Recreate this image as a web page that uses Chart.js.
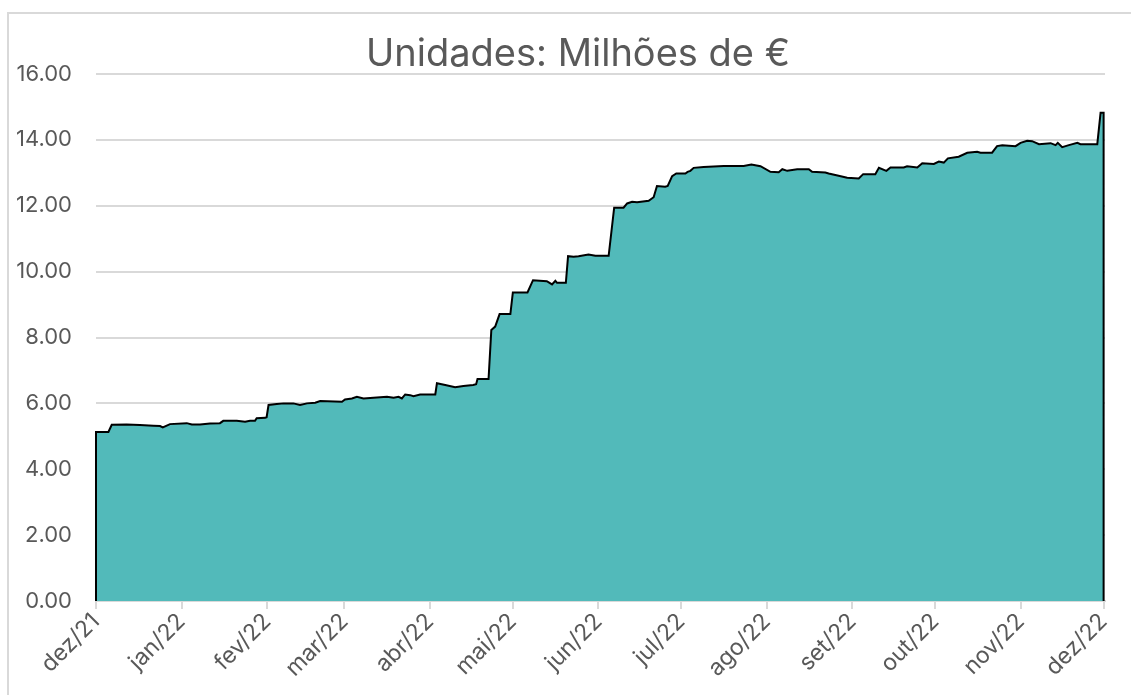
<!DOCTYPE html>
<html lang="pt">
<head>
<meta charset="utf-8">
<title>Unidades: Milhões de €</title>
<script src="https://cdn.jsdelivr.net/npm/chart.js@4.4.1/dist/chart.umd.min.js"></script>
<style>
  html, body { margin: 0; padding: 0; background: #fff; overflow: hidden; }
  .frame { position: absolute; left: 7px; top: 12px; right: 0; bottom: 0; border-left: 2px solid #d9d9d9; border-top: 2px solid #d9d9d9; }
  .wrap { position: absolute; left: 0; top: 0; width: 1156px; height: 695px; }
</style>
</head>
<body>
<div class="frame"></div>
<div class="wrap"><canvas id="chart"></canvas></div>
<script>
// days since 01/12/2021 and value (millions of €)
const days = [
  0, 0, 4.5, 5.7, 11.1, 15.9, 20.8, 23.2, 24.2, 26.8, 32.9, 34.7, 37.7, 41.3, 44.9,
  46.1, 51.0, 54.0, 55.8, 57.6, 58.2, 61.3, 61.8, 62.5, 65.5, 67.9, 71.5, 73.9, 76.4,
  79.4, 81.2, 89.1, 90.2, 92.7, 94.5, 96.9, 100.5, 105.4, 107.8, 109.6, 110.8, 112.0,
  113.8, 115.0, 117.4, 122.9, 123.5, 126.5, 130.1, 133.1, 136.6, 137.7, 138.2, 142.2,
  143.2, 144.6, 146.2, 150.1, 151.0, 156.3, 158.3, 163.3, 165.2, 166.4, 167.0, 170.2,
  171.0, 173.0, 174.8, 178.4, 180.9, 185.7, 187.7, 191.1, 192.4, 194.2, 196.0, 200.2,
  202.0, 203.2, 206.2, 207.1, 208.7, 210.2, 213.5, 214.3, 215.3, 216.5, 220.1, 227.4,
  234.6, 237.4, 240.7, 244.3, 247.3, 248.6, 250.4, 254.0, 258.2, 259.4, 264.2, 265.4,
  269.0, 272.1, 276.3, 277.9, 282.3, 283.6, 286.3, 287.8, 292.6, 293.8, 297.5, 299.3,
  303.5, 305.3, 307.1, 308.6, 312.5, 315.6, 319.2, 320.4, 324.6, 326.4, 328.3, 333.1,
  334.9, 337.3, 339.1, 341.6, 345.8, 347.6, 348.4, 350.0, 352.4, 355.5, 356.6, 362.7,
  363.9, 365, 365
];
const values = [
  0, 5.13, 5.13, 5.35, 5.36, 5.34, 5.32, 5.31, 5.27, 5.37, 5.40, 5.36, 5.36, 5.39, 5.40,
  5.47, 5.47, 5.44, 5.47, 5.47, 5.55, 5.56, 5.58, 5.95, 5.98, 6.00, 6.00, 5.95, 6.00,
  6.02, 6.07, 6.05, 6.12, 6.15, 6.20, 6.15, 6.17, 6.20, 6.17, 6.20, 6.15, 6.27,
  6.25, 6.22, 6.27, 6.27, 6.61, 6.56, 6.49, 6.53, 6.56, 6.58, 6.74, 6.74,
  8.23, 8.33, 8.71, 8.71, 9.37, 9.37, 9.74, 9.71, 9.61, 9.72, 9.66, 9.66,
  10.47, 10.45, 10.47, 10.52, 10.48, 10.48, 11.94, 11.94, 12.07, 12.12, 12.11, 12.15,
  12.26, 12.60, 12.58, 12.60, 12.90, 12.98, 12.98, 13.03, 13.06, 13.15, 13.18, 13.21,
  13.21, 13.25, 13.20, 13.03, 13.02, 13.11, 13.06, 13.11, 13.11, 13.03, 13.01, 12.98,
  12.91, 12.85, 12.83, 12.96, 12.96, 13.15, 13.06, 13.16, 13.16, 13.20, 13.16, 13.29,
  13.27, 13.34, 13.31, 13.44, 13.49, 13.61, 13.64, 13.61, 13.61, 13.81, 13.84, 13.81,
  13.91, 13.97, 13.96, 13.87, 13.90, 13.84, 13.91, 13.78, 13.84, 13.91, 13.87, 13.87,
  14.82, 14.82, 0
];
const monthDays = [0, 31, 62, 90, 121, 151, 182, 212, 243, 274, 304, 335, 365];
const monthLabels = ['dez/21', 'jan/22', 'fev/22', 'mar/22', 'abr/22', 'mai/22', 'jun/22',
  'jul/22', 'ago/22', 'set/22', 'out/22', 'nov/22', 'dez/22'];

const FONT = 'Inter, "Open Sans", sans-serif';
const GREY = '#d9d9d9';
const TEXT = '#595959';

const points = days.map((d, i) => ({ x: d, y: values[i] }));

// the title is centred on the whole chart box, not between the paddings
const centreTitle = {
  id: 'centreTitle',
  afterLayout(chart) {
    if (chart.titleBlock) { chart.titleBlock.left = 0; chart.titleBlock.right = chart.width; }
  }
};

new Chart(document.getElementById('chart'), {
  type: 'line',
  data: {
    datasets: [{
      data: points,
      borderColor: '#000',
      borderWidth: 2,
      backgroundColor: '#52baba',
      fill: 'origin',
      tension: 0,
      pointRadius: 0,
      clip: false
    }]
  },
  options: {
    responsive: true,
    maintainAspectRatio: false,
    animation: false,
    layout: { padding: { left: 12, right: 51, top: 0, bottom: 0 } },
    plugins: {
      legend: { display: false },
      tooltip: { enabled: false },
      title: {
        display: true,
        text: 'Unidades: Milhões de €',
        color: TEXT,
        font: { family: FONT, size: 38, weight: 'normal', lineHeight: 1 },
        padding: { top: 36, bottom: 0 }
      }
    },
    scales: {
      x: {
        type: 'linear',
        min: 0,
        max: 365.5,
        afterBuildTicks: (scale) => { scale.ticks = monthDays.map(v => ({ value: v })); },
        afterFit: (scale) => { scale.height = 94; scale.paddingLeft = 0; scale.paddingRight = 0; },
        grid: { drawOnChartArea: false, drawTicks: true, tickLength: 8, color: GREY, lineWidth: 2 },
        border: { color: GREY, width: 2 },
        ticks: {
          autoSkip: false,
          maxRotation: 45,
          minRotation: 45,
          padding: -1,
          color: TEXT,
          font: { family: FONT, size: 23 },
          callback: (v, i) => monthLabels[i]
        }
      },
      y: {
        min: 0,
        max: 16,
        afterFit: (scale) => { scale.width = 84; },
        ticks: {
          stepSize: 2,
          padding: 24,
          color: TEXT,
          font: { family: FONT, size: 22 },
          callback: v => v.toFixed(2)
        },
        grid: { color: GREY, lineWidth: 2, drawTicks: false },
        border: { display: false }
      }
    }
  },
  plugins: [centreTitle]
});
</script>
</body>
</html>
